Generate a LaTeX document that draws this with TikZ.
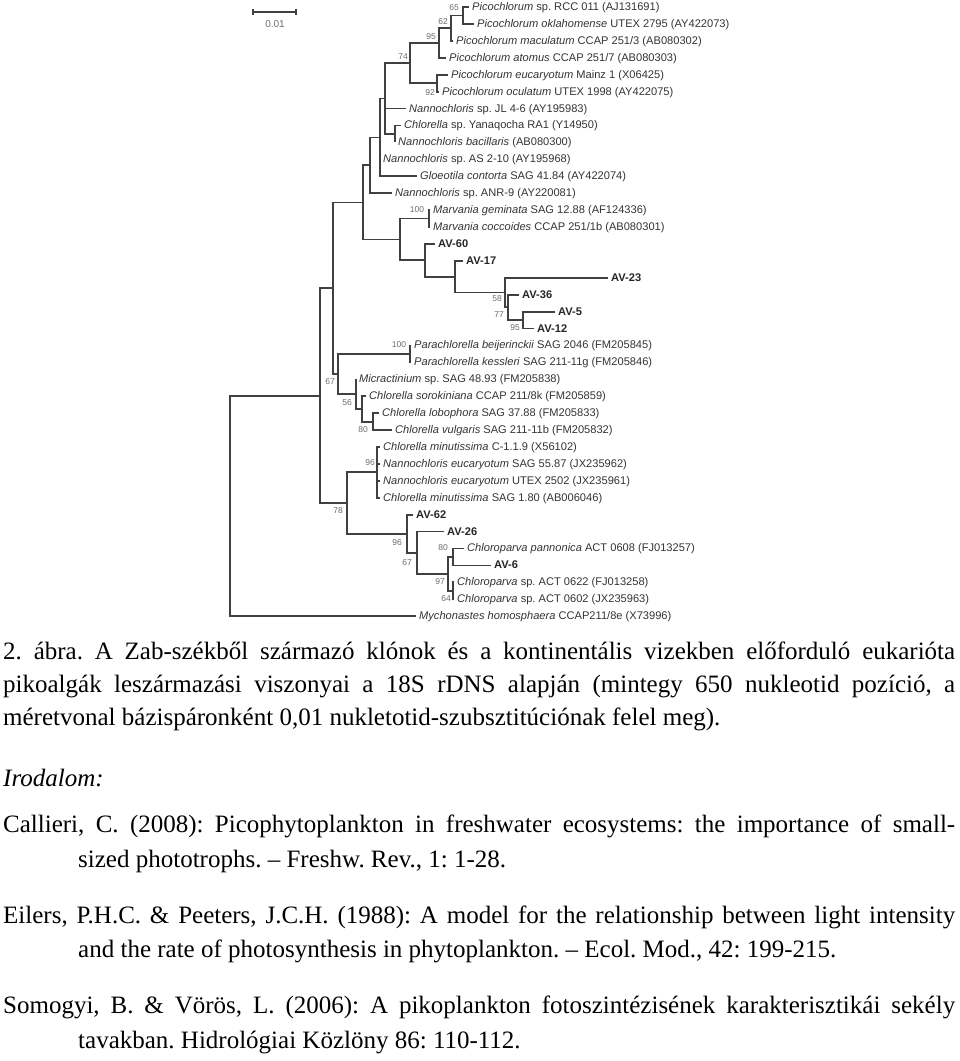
\documentclass[tikz,border=0pt]{standalone}
\usepackage{fontspec}
\usepackage{xcolor}
\usepackage{tikz}
\usetikzlibrary{arrows.meta,positioning,calc}
\setmainfont{Liberation Sans}
\newfontfamily\capfont{Liberation Serif}
\definecolor{treegray}{gray}{0.25}
\definecolor{textgray}{gray}{0.2}
\definecolor{bootgray}{gray}{0.42}
\frenchspacing

\begin{document}
\begin{tikzpicture}[
    x=1pt, y=-1pt,
    branch/.style={
        draw=treegray,
        line width=1.8pt
    },
    leaf/.style={
        anchor=west,
        inner xsep=3pt,
        inner ysep=0pt,
        text height=8pt,
        text depth=1pt,
        text=textgray,
        font=\fontsize{11.1}{13}\selectfont
    },
    clone/.style={
        leaf,
        text=black!85,
        font=\fontsize{11.1}{13}\selectfont\bfseries
    },
    boot/.style={
        inner sep=0pt,
        text=bootgray,
        font=\fontsize{8.5}{10}\selectfont
    },
    capline/.style={
        anchor=base west,
        inner sep=0pt,
        font=\capfont\fontsize{25}{30}\selectfont
    }
]
\useasboundingbox (0,0) rectangle (960,1061);

% --- Scale bar ---
\coordinate (sbl) at (252,12);
\coordinate (sbr) at (297,12);
\draw[branch, {Bar[width=6pt]}-{Bar[width=6pt]}] (sbl) -- (sbr);
\node[boot, font=\fontsize{10}{12}\selectfont] (sblabel) at (275,24) {0.01};

% --- Leaves ---
\node[leaf] (l0) at (469,7) {\textit{Picochlorum} sp. RCC 011 (AJ131691)};
\node[leaf] (l1) at (474,23.9) {\textit{Picochlorum oklahomense} UTEX 2795 (AY422073)};
\node[leaf] (l2) at (453,40.8) {\textit{Picochlorum maculatum} CCAP 251/3 (AB080302)};
\node[leaf] (l3) at (446,57.8) {\textit{Picochlorum atomus} CCAP 251/7 (AB080303)};
\node[leaf] (l4) at (448,74.7) {\textit{Picochlorum eucaryotum} Mainz 1 (X06425)};
\node[leaf] (l5) at (439,91.6) {\textit{Picochlorum oculatum} UTEX 1998 (AY422075)};
\node[leaf] (l6) at (406,108.5) {\textit{Nannochloris} sp. JL 4-6 (AY195983)};
\node[leaf] (l7) at (401,125.4) {\textit{Chlorella} sp. Yanaqocha RA1 (Y14950)};
\node[leaf] (l8) at (395,142.4) {\textit{Nannochloris bacillaris} (AB080300)};
\node[leaf] (l9) at (380,159.3) {\textit{Nannochloris} sp. AS 2-10 (AY195968)};
\node[leaf] (l10) at (417,176.2) {\textit{Gloeotila contorta} SAG 41.84 (AY422074)};
\node[leaf] (l11) at (392,193.1) {\textit{Nannochloris} sp. ANR-9 (AY220081)};
\node[leaf] (l12) at (430,210) {\textit{Marvania geminata} SAG 12.88 (AF124336)};
\node[leaf] (l13) at (430,227) {\textit{Marvania coccoides} CCAP 251/1b (AB080301)};
\node[clone] (l14) at (435,243.9) {AV-60};
\node[clone] (l15) at (463,260.8) {AV-17};
\node[clone] (l16) at (608,277.7) {AV-23};
\node[clone] (l17) at (519,294.6) {AV-36};
\node[clone] (l18) at (555,311.6) {AV-5};
\node[clone] (l19) at (534,328.5) {AV-12};
\node[leaf] (l20) at (411,345.4) {\textit{Parachlorella beijerinckii} SAG 2046 (FM205845)};
\node[leaf] (l21) at (411,362.3) {\textit{Parachlorella kessleri} SAG 211-11g (FM205846)};
\node[leaf] (l22) at (356,379.2) {\textit{Micractinium} sp. SAG 48.93 (FM205838)};
\node[leaf] (l23) at (366,396.2) {\textit{Chlorella sorokiniana} CCAP 211/8k (FM205859)};
\node[leaf] (l24) at (379,413.1) {\textit{Chlorella lobophora} SAG 37.88 (FM205833)};
\node[leaf] (l25) at (392,430) {\textit{Chlorella vulgaris} SAG 211-11b (FM205832)};
\node[leaf] (l26) at (380,446.9) {\textit{Chlorella minutissima} C-1.1.9 (X56102)};
\node[leaf] (l27) at (380,463.8) {\textit{Nannochloris eucaryotum} SAG 55.87 (JX235962)};
\node[leaf] (l28) at (380,480.8) {\textit{Nannochloris eucaryotum} UTEX 2502 (JX235961)};
\node[leaf] (l29) at (380,497.7) {\textit{Chlorella minutissima} SAG 1.80 (AB006046)};
\node[clone] (l30) at (413,514.6) {AV-62};
\node[clone] (l31) at (444,531.5) {AV-26};
\node[leaf] (l32) at (464,548.4) {\textit{Chloroparva pannonica} ACT 0608 (FJ013257)};
\node[clone] (l33) at (491,565.4) {AV-6};
\node[leaf] (l34) at (454,582.3) {\textit{Chloroparva} sp. ACT 0622 (FJ013258)};
\node[leaf] (l35) at (454,599.2) {\textit{Chloroparva} sp. ACT 0602 (JX235963)};
\node[leaf] (l36) at (416,616.1) {\textit{Mychonastes homosphaera} CCAP211/8e (X73996)};

% --- Inner nodes ---
\coordinate (n65) at (463,15.45);
\coordinate (n62) at (451,28.1);
\coordinate (n95) at (439,43.0);
\coordinate (n92) at (437,83.2);
\coordinate (n74) at (410,63.1);
\coordinate (nCN) at (395,133.9);
\coordinate (nA) at (385,98.5);
\coordinate (nB) at (380,137.4);
\coordinate (nC) at (370,165.3);
\coordinate (nMar) at (429,218.5);
\coordinate (n95b) at (523,320.0);
\coordinate (n77) at (508,307.3);
\coordinate (n58) at (505,292.5);
\coordinate (nAV17) at (455,276.7);
\coordinate (nAV60) at (425,260.3);
\coordinate (nMAV) at (400,239.4);
\coordinate (nD) at (363,202.4);
\coordinate (nPar) at (410,353.9);
\coordinate (nLV) at (373,421.6);
\coordinate (nSor) at (362,408.9);
\coordinate (nMic) at (356,394.1);
\coordinate (nG) at (338,374.0);
\coordinate (nE) at (333,288.2);
\coordinate (nPoly) at (377,472.3);
\coordinate (n80) at (453,556.9);
\coordinate (n97) at (453,590.8);
\coordinate (nChl) at (448,573.9);
\coordinate (nAV26) at (417,552.7);
\coordinate (nAV62) at (407,533.7);
\coordinate (n78) at (347,503.0);
\coordinate (nF) at (320,395.6);
\coordinate (root) at (230,505.9);

% --- Branches ---
\draw[branch] (l0.west) -| (n65) |- (l1.west);
\draw[branch] (n65) -| (n62) |- (l2.west);
\draw[branch] (n62) -| (n95) |- (l3.west);
\draw[branch] (l4.west) -| (n92) |- (l5.west);
\draw[branch] (n95) -| (n74) |- (n92);
\draw[branch] (l7.west) -| (nCN) |- (l8.west);
\draw[branch] (n74) -| (nA) |- (nCN);
\draw[branch] (nA |- l6.west) -- (l6.west);
\draw[branch] (nA) -| (nB) |- (l10.west);
\draw[branch] (nB |- l9.west) -- (l9.west);
\draw[branch] (nB) -| (nC) |- (l11.west);
\draw[branch] (l12.west) -| (nMar) |- (l13.west);
\draw[branch] (l18.west) -| (n95b) |- (l19.west);
\draw[branch] (l17.west) -| (n77) |- (n95b);
\draw[branch] (l16.west) -| (n58) |- (n77);
\draw[branch] (l15.west) -| (nAV17) |- (n58);
\draw[branch] (l14.west) -| (nAV60) |- (nAV17);
\draw[branch] (nMar) -| (nMAV) |- (nAV60);
\draw[branch] (nC) -| (nD) |- (nMAV);
\draw[branch] (l20.west) -| (nPar) |- (l21.west);
\draw[branch] (l24.west) -| (nLV) |- (l25.west);
\draw[branch] (l23.west) -| (nSor) |- (nLV);
\draw[branch] (l22.west) -| (nMic) |- (nSor);
\draw[branch] (nPar) -| (nG) |- (nMic);
\draw[branch] (nD) -| (nE) |- (nG);
\draw[branch] (l26.west) -| (nPoly) |- (l29.west);
\draw[branch] (nPoly |- l27.west) -- (l27.west);
\draw[branch] (nPoly |- l28.west) -- (l28.west);
\draw[branch] (l32.west) -| (n80) |- (l33.west);
\draw[branch] (l34.west) -| (n97) |- (l35.west);
\draw[branch] (n80) -| (nChl) |- (n97);
\draw[branch] (l31.west) -| (nAV26) |- (nChl);
\draw[branch] (l30.west) -| (nAV62) |- (nAV26);
\draw[branch] (nPoly) -| (n78) |- (nAV62);
\draw[branch] (nE) -| (nF) |- (n78);
\draw[branch] (nF) -| (root) |- (l36.west);

% --- Bootstrap values ---
\node[boot] (b65) at (454,8) {65};
\node[boot] (b62) at (443,22) {62};
\node[boot] (b95) at (431,37) {95};
\node[boot] (b74) at (403,57) {74};
\node[boot] (b92) at (430,93) {92};
\node[boot] (b100m) at (417,210) {100};
\node[boot] (b58) at (497,299) {58};
\node[boot] (b77) at (499,315) {77};
\node[boot] (b95b) at (515,328) {95};
\node[boot] (b100p) at (399,345) {100};
\node[boot] (b67a) at (330,382) {67};
\node[boot] (b56) at (347,403) {56};
\node[boot] (b80a) at (363,430) {80};
\node[boot] (b96a) at (370,463) {96};
\node[boot] (b78) at (338,511) {78};
\node[boot] (b96b) at (397,543) {96};
\node[boot] (b67b) at (407,563) {67};
\node[boot] (b80b) at (443,548) {80};
\node[boot] (b97) at (440,582) {97};
\node[boot] (b64) at (446,599) {64};

% --- Caption ---
\node[capline] (cap1) at (3,659) {\makebox[952pt][s]{2. ábra. A Zab-székből származó klónok és a kontinentális vizekben előforduló eukarióta}};
\node[capline] (cap2) at (3,692) {\makebox[952pt][s]{pikoalgák leszármazási viszonyai a 18S rDNS alapján (mintegy 650 nukleotid pozíció, a}};
\node[capline] (cap3) at (3,725) {méretvonal bázispáronként 0,01 nukletotid-szubsztitúciónak felel meg).};

% --- References ---
\node[capline] (lit) at (3,786) {\textit{Irodalom:}};
\node[capline] (ref1a) at (3,832) {\makebox[952pt][s]{Callieri, C. (2008): Picophytoplankton in freshwater ecosystems: the importance of small-}};
\node[capline] (ref1b) at (78,867) {sized phototrophs. – Freshw. Rev., 1: 1-28.};
\node[capline] (ref2a) at (3,923) {\makebox[952pt][s]{Eilers, P.H.C. \& Peeters, J.C.H. (1988): A model for the relationship between light intensity}};
\node[capline] (ref2b) at (78,957) {and the rate of photosynthesis in phytoplankton. – Ecol. Mod., 42: 199-215.};
\node[capline] (ref3a) at (3,1013) {\makebox[952pt][s]{Somogyi, B. \& Vörös, L. (2006): A pikoplankton fotoszintézisének karakterisztikái sekély}};
\node[capline] (ref3b) at (78,1048) {tavakban. Hidrológiai Közlöny 86: 110-112.};

\end{tikzpicture}
\end{document}
